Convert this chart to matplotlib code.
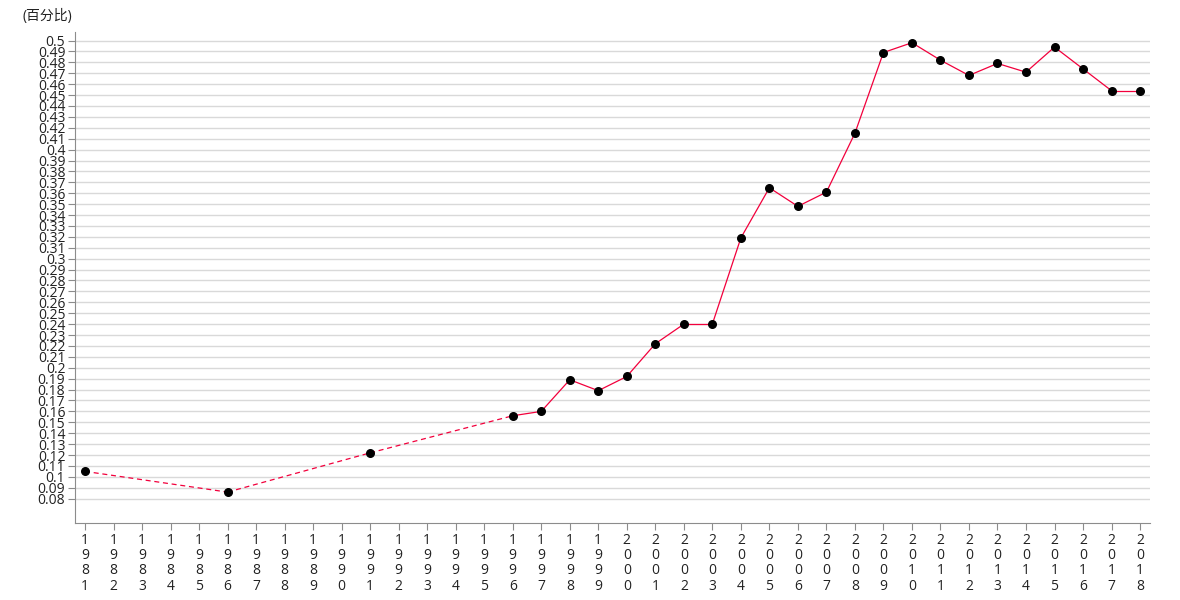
import numpy as np
import matplotlib.pyplot as plt

plt.rcParams['font.family'] = ['Open Sans', 'Noto Sans CJK SC', 'DejaVu Sans']

years = [1981, 1986, 1991, 1996, 1997, 1998, 1999, 2000, 2001, 2002, 2003,
         2004, 2005, 2006, 2007, 2008, 2009, 2010, 2011, 2012, 2013, 2014,
         2015, 2016, 2017, 2018]
values = [0.105, 0.086, 0.122, 0.156, 0.160, 0.189, 0.179, 0.192, 0.222,
          0.240, 0.240, 0.319, 0.365, 0.348, 0.361, 0.415, 0.489, 0.498,
          0.482, 0.468, 0.479, 0.471, 0.494, 0.474, 0.454, 0.454]
all_years = list(range(1981, 2019))
y_ticks = [round(0.08 + 0.01 * i, 2) for i in range(43)]

line_color = '#f2003c'
grid_color = '#d9d9d9'
axis_color = '#8c8c8c'

fig = plt.figure(figsize=(11.8, 6), dpi=100)
ax = fig.add_axes([0.0636, 0.128, 0.911, 0.819])

# dashed where years are not consecutive, solid otherwise
for i in range(len(years) - 1):
    ls = '-' if years[i + 1] - years[i] == 1 else (0, (4, 3))
    ax.plot(years[i:i + 2], values[i:i + 2], color=line_color, lw=0.9,
            ls=ls, zorder=2)
ax.scatter(years, values, s=30, color='black', zorder=3)

ax.set_xlim(1980.65, 2018.35)
ax.set_ylim(0.0575, 0.508)
ax.set_yticks(y_ticks)
ax.set_yticklabels([f'{v:g}' for v in y_ticks])
ax.set_xticks(all_years)
ax.set_xticklabels(['\n'.join(str(y)) for y in all_years], linespacing=1.02)

ax.grid(axis='y', color=grid_color, lw=1)
ax.set_axisbelow(True)
for s in ['top', 'right']:
    ax.spines[s].set_visible(False)
for s in ['left', 'bottom']:
    ax.spines[s].set_color(axis_color)
ax.tick_params(axis='both', colors=axis_color, labelcolor='#222222',
               labelsize=10, length=5)
ax.tick_params(axis='y', pad=2)
ax.tick_params(axis='x', pad=2)

fig.text(0.019, 0.973, '(百分比)', fontsize=10, color='#222222',
         ha='left', va='center')

fig.savefig('out.png', dpi=100)
